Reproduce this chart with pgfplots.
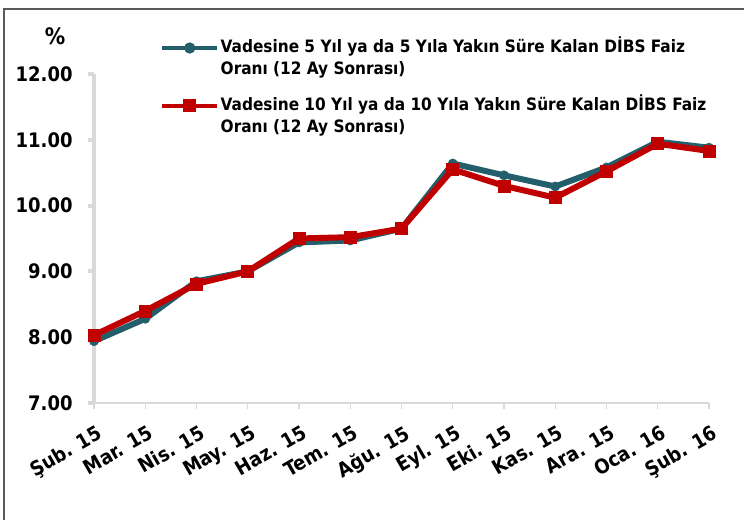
\documentclass[border=0pt]{standalone}
\usepackage{fontspec}
\setmainfont{DejaVu Sans Condensed}
\usepackage{pgfplots}
\pgfplotsset{compat=1.18}
\definecolor{tealS}{HTML}{235E6B}
\definecolor{redS}{HTML}{C00000}
\definecolor{axgray}{HTML}{D9D9D9}
\begin{document}
\begin{tikzpicture}
\useasboundingbox (0,0) rectangle (558pt,390pt);
\draw[black!65, line width=1pt] (3pt,-2pt) -- (3pt,383.25pt) -- (560pt,383.25pt);
\node[font=\bfseries\fontsize{17}{20}\selectfont] at (41.25pt,363pt) {\%};
\begin{axis}[
  at={(70.5pt,87.75pt)}, anchor=south west,
  scale only axis, width=461.25pt, height=246.75pt,
  xmin=0, xmax=12, ymin=7, ymax=12,
  clip=false,
  axis x line*=bottom, axis y line*=left,
  x axis line style={draw=axgray, line width=1.5pt, -},
  y axis line style={draw=axgray, line width=3pt, -},
  xtick={0,...,12},
  xticklabels={Şub. 15, Mar. 15, Nis. 15, May. 15, Haz. 15, Tem. 15, Ağu. 15, Eyl. 15, Eki. 15, Kas. 15, Ara. 15, Oca. 16, Şub. 16},
  ytick={7,8,...,12},
  tick align=outside,
  major tick length=4.5pt,
  xtick style={draw=axgray, line width=1pt},
  ytick style={draw=axgray, line width=3pt},
  /pgf/number format/.cd, fixed, fixed zerofill, precision=2, assume math mode=true, /pgfplots/.cd,
  yticklabel style={font=\bfseries\fontsize{15}{18}\selectfont, xshift=-8pt},
  xticklabel style={font=\bfseries\fontsize{15}{18}\selectfont, yshift=-10pt, xshift=2pt, rotate=30, anchor=north east, inner sep=1pt},
  legend style={at={(0.107,1.119)}, anchor=north west, draw=none, fill=none,
    font=\bfseries\fontsize{12.8}{15}\selectfont, row sep=11pt, inner sep=0pt,
    nodes={align=left, inner sep=1pt}},
  legend cell align=left,
  legend image code/.code={\draw[#1, yshift=6.5pt, mark repeat=2, mark phase=2, line width=3.5pt, mark options={scale=0.7}] plot coordinates {(0cm,0cm) (0.72cm,0cm) (1.44cm,0cm)};},
]
\addplot[color=tealS, line width=4.5pt, mark=*, mark size=3.4pt, mark options={solid, fill=tealS, line width=0.5pt}] coordinates {
(0,7.94) (1,8.28) (2,8.85) (3,9.00) (4,9.44) (5,9.47) (6,9.65) (7,10.64) (8,10.46) (9,10.29) (10,10.58) (11,10.97) (12,10.88)};
\addlegendentry{Vadesine 5 Yıl ya da 5 Yıla Yakın Süre Kalan DİBS Faiz\\[2pt]Oranı (12 Ay Sonrası)}
\addplot[color=redS, line width=4.5pt, mark=square*, mark size=4.5pt, mark options={solid, fill=redS, line width=0.5pt}] coordinates {
(0,8.03) (1,8.40) (2,8.81) (3,9.00) (4,9.50) (5,9.52) (6,9.65) (7,10.55) (8,10.30) (9,10.12) (10,10.52) (11,10.94) (12,10.83)};
\addlegendentry{Vadesine 10 Yıl ya da 10 Yıla Yakın Süre Kalan DİBS Faiz\\[2pt]Oranı (12 Ay Sonrası)}
\end{axis}
\end{tikzpicture}
\end{document}
